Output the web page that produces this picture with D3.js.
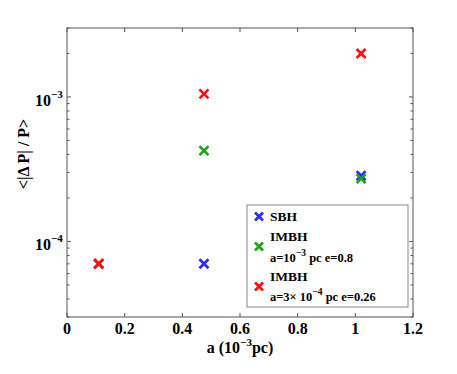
<!DOCTYPE html>
<html>
<head>
<meta charset="utf-8">
<script src="https://cdn.jsdelivr.net/npm/d3@7"></script>
<style>
  body { margin: 0; background: #fff; }
  text { font-family: "Liberation Serif", "Times New Roman", serif; font-weight: bold; }
</style>
</head>
<body>
<svg id="chart"></svg>
<script>
const width = 457;
const height = 374;
const marginTop = 28;
const marginRight = 44;
const marginBottom = 57;
const marginLeft = 67;

// data
const aValues = [0.11, 0.475, 1.02];
const sbh = [7.0e-5, 7.0e-5, 2.85e-4];
const imbhA = [7.0e-5, 4.25e-4, 2.72e-4];
const imbhB = [7.0e-5, 1.05e-3, 2.0e-3];
const xTicks = [0, 0.2, 0.4, 0.6, 0.8, 1, 1.2];
const yMajor = [1e-4, 1e-3];

const series = [
  { name: "SBH", values: sbh, color: "#2b2bff" },
  { name: "IMBH1", values: imbhA, color: "#1ea01e" },
  { name: "IMBH2", values: imbhB, color: "#ff1010" },
];

const svg = d3.select("#chart").attr("width", width).attr("height", height);

const x = d3.scaleLinear().domain([0, 1.2]).range([marginLeft, width - marginRight]);
const y = d3.scaleLog().domain([3e-5, 3e-3]).range([height - marginBottom, marginTop]);

// minor ticks for log axis
const yMinor = [];
for (let e = -5; e <= -3; e++) {
  for (let m = 2; m <= 9; m++) {
    const v = m * Math.pow(10, e);
    if (v >= 3e-5 && v <= 3e-3) yMinor.push(v);
  }
}

const axisColor = "#555";
const x0 = marginLeft, x1 = width - marginRight;
const y0 = height - marginBottom, y1 = marginTop;

// box
svg.append("rect")
  .attr("x", x0).attr("y", y1)
  .attr("width", x1 - x0).attr("height", y0 - y1)
  .attr("fill", "none").attr("stroke", axisColor).attr("stroke-width", 1);

// x ticks (inward, top and bottom)
xTicks.forEach((t) => {
  svg.append("line").attr("x1", x(t)).attr("x2", x(t)).attr("y1", y0).attr("y2", y0 - 4)
    .attr("stroke", axisColor);
  svg.append("line").attr("x1", x(t)).attr("x2", x(t)).attr("y1", y1).attr("y2", y1 + 4)
    .attr("stroke", axisColor);
  svg.append("text").attr("x", x(t)).attr("y", y0 + 17)
    .attr("text-anchor", "middle").attr("font-size", "16px").text(d3.format("~g")(t));
});

// y ticks
yMajor.forEach((t) => {
  svg.append("line").attr("x1", x0).attr("x2", x0 + 4).attr("y1", y(t)).attr("y2", y(t)).attr("stroke", axisColor);
  svg.append("line").attr("x1", x1).attr("x2", x1 - 4).attr("y1", y(t)).attr("y2", y(t)).attr("stroke", axisColor);
  const lbl = svg.append("text").attr("x", x0 - 32).attr("y", y(t) + 9)
    .attr("font-size", "16px");
  lbl.append("tspan").text("10");
  lbl.append("tspan").attr("dy", -8).attr("font-size", "11px").text("\u2212" + Math.round(-Math.log10(t)));
});
yMinor.forEach((t) => {
  svg.append("line").attr("x1", x0).attr("x2", x0 + 2.5).attr("y1", y(t)).attr("y2", y(t)).attr("stroke", axisColor);
  svg.append("line").attr("x1", x1).attr("x2", x1 - 2.5).attr("y1", y(t)).attr("y2", y(t)).attr("stroke", axisColor);
});

// x-marker helper
function cross(g, cx, cy, color, r) {
  g.append("path")
    .attr("d", `M${cx - r},${cy - r}L${cx + r},${cy + r}M${cx - r},${cy + r}L${cx + r},${cy - r}`)
    .attr("stroke", color).attr("stroke-width", 2.7).attr("fill", "none");
}

// points
series.forEach((s) => {
  const g = svg.append("g");
  s.values.forEach((v, i) => cross(g, x(aValues[i]), y(v), s.color, 4.5));
});

// axis labels
const xl = svg.append("text").attr("x", (x0 + x1) / 2).attr("y", 353)
  .attr("text-anchor", "middle").attr("font-size", "16px");
xl.append("tspan").text("a (10");
xl.append("tspan").attr("dy", -7).attr("font-size", "11px").text("\u22123");
xl.append("tspan").attr("dy", 7).text("pc)");

svg.append("text")
  .attr("transform", `translate(29,154) rotate(-90)`)
  .attr("text-anchor", "middle").attr("font-size", "16px")
  .text("<|\u0394 P| / P>");

// legend
const lg = svg.append("g");
lg.append("rect").attr("x", 247).attr("y", 205).attr("width", 161).attr("height", 102)
  .attr("fill", "#fff").attr("stroke", "#888").attr("stroke-width", 1);
const lx = 259;
cross(lg, lx, 216.5, series[0].color, 4);
cross(lg, lx, 246.5, series[1].color, 4);
cross(lg, lx, 286.5, series[2].color, 4);

lg.append("text").attr("x", 270).attr("y", 221).attr("font-size", "13.5px").text("SBH");
lg.append("text").attr("x", 270).attr("y", 241).attr("font-size", "13.5px").text("IMBH");
const l2 = lg.append("text").attr("x", 270).attr("y", 262).attr("font-size", "12.5px");
l2.append("tspan").text("a=10");
l2.append("tspan").attr("dy", -6).attr("font-size", "9.5px").text("\u22123");
l2.append("tspan").attr("dy", 6).text(" pc e=0.8");
lg.append("text").attr("x", 270).attr("y", 281).attr("font-size", "13.5px").text("IMBH");
const l3 = lg.append("text").attr("x", 270).attr("y", 301).attr("font-size", "12.5px");
l3.append("tspan").text("a=3\u00d7 10");
l3.append("tspan").attr("dy", -6).attr("font-size", "9.5px").text("\u22124");
l3.append("tspan").attr("dy", 6).text(" pc e=0.26");
</script>
</body>
</html>
